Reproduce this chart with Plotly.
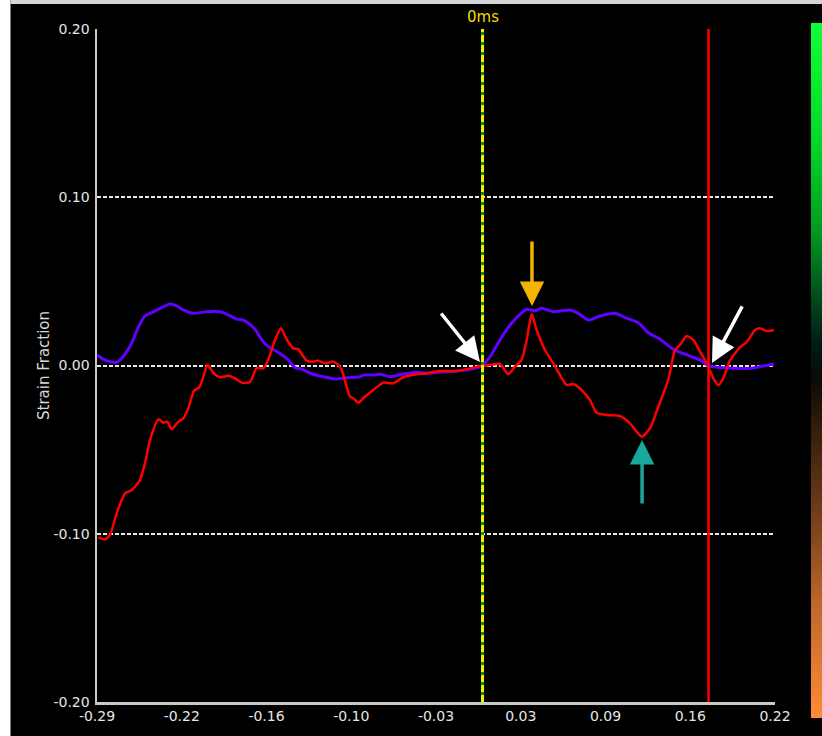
import plotly.graph_objects as go

# ---- data (x in seconds, y strain fraction) ----
purple_x = [-0.2900, -0.2827, -0.2752, -0.2704, -0.2639, -0.2592, -0.2539, -0.2489, -0.2413, -0.2351,
            -0.2300, -0.2251, -0.2176, -0.2075, -0.1975, -0.1924, -0.1849, -0.1800, -0.1736, -0.1699,
            -0.1661, -0.1611, -0.1523, -0.1461, -0.1411, -0.1360, -0.1298, -0.1223, -0.1110, -0.1022,
            -0.0922, -0.0897, -0.0822, -0.0771, -0.0696, -0.0596, -0.0495, -0.0420, -0.0320, -0.0194,
            -0.0094, 0.0000, 0.0056, 0.0131, 0.0207, 0.0282, 0.0332, 0.0395, 0.0445, 0.0532,
            0.0658, 0.0720, 0.0796, 0.0884, 0.0996, 0.1084, 0.1172, 0.1247, 0.1335, 0.1435,
            0.1560, 0.1636, 0.1698, 0.1761, 0.1886, 0.2012, 0.2112, 0.2192]
purple_y = [0.0062, 0.0027, 0.0019, 0.0052, 0.0134, 0.0223, 0.0294, 0.0314, 0.0344, 0.0366,
            0.0354, 0.0330, 0.0310, 0.0320, 0.0320, 0.0306, 0.0276, 0.0270, 0.0235, 0.0201,
            0.0152, 0.0112, 0.0072, 0.0033, -0.0013, -0.0021, -0.0046, -0.0062, -0.0080, -0.0073,
            -0.0067, -0.0057, -0.0057, -0.0052, -0.0067, -0.0051, -0.0040, -0.0046, -0.0039, -0.0033,
            -0.0023, 0.0000, 0.0052, 0.0152, 0.0241, 0.0304, 0.0334, 0.0326, 0.0340, 0.0320,
            0.0330, 0.0310, 0.0270, 0.0294, 0.0310, 0.0281, 0.0254, 0.0195, 0.0156, 0.0096,
            0.0056, 0.0033, -0.0001, -0.0011, -0.0017, -0.0017, -0.0003, 0.0007]

red_x = [-0.2890, -0.2840, -0.2802, -0.2752, -0.2689, -0.2639, -0.2577, -0.2539, -0.2501, -0.2439,
         -0.2401, -0.2371, -0.2338, -0.2288, -0.2251, -0.2213, -0.2170, -0.2130, -0.2100, -0.2070,
         -0.2025, -0.1975, -0.1912, -0.1862, -0.1812, -0.1749, -0.1699, -0.1649, -0.1611, -0.1561,
         -0.1516, -0.1478, -0.1423, -0.1386, -0.1323, -0.1273, -0.1235, -0.1185, -0.1122, -0.1085,
         -0.1059, -0.1022, -0.0997, -0.0972, -0.0934, -0.0897, -0.0822, -0.0746, -0.0671, -0.0596,
         -0.0495, -0.0420, -0.0320, -0.0194, -0.0094, 0.0000, 0.0056, 0.0131, 0.0194, 0.0244,
         0.0294, 0.0332, 0.0370, 0.0407, 0.0470, 0.0532, 0.0583, 0.0633, 0.0683, 0.0746,
         0.0808, 0.0858, 0.0934, 0.1034, 0.1109, 0.1197, 0.1260, 0.1322, 0.1397, 0.1448,
         0.1485, 0.1536, 0.1586, 0.1636, 0.1686, 0.1736, 0.1773, 0.1811, 0.1861, 0.1937,
         0.1987, 0.2050, 0.2087, 0.2138, 0.2192]
red_y = [-0.1021, -0.1033, -0.1007, -0.0878, -0.0760, -0.0740, -0.0681, -0.0581, -0.0443, -0.0320,
         -0.0340, -0.0334, -0.0379, -0.0334, -0.0314, -0.0254, -0.0150, -0.0130, -0.0067, 0.0005,
         -0.0043, -0.0070, -0.0061, -0.0076, -0.0102, -0.0098, -0.0015, -0.0017, 0.0037, 0.0152,
         0.0221, 0.0162, 0.0102, 0.0096, 0.0029, 0.0023, 0.0029, 0.0013, 0.0023, 0.0003,
         -0.0027, -0.0126, -0.0185, -0.0195, -0.0221, -0.0195, -0.0146, -0.0102, -0.0106, -0.0070,
         -0.0052, -0.0046, -0.0033, -0.0033, -0.0017, 0.0000, 0.0003, 0.0009, -0.0052, -0.0007,
         0.0033, 0.0152, 0.0306, 0.0211, 0.0092, 0.0013, -0.0057, -0.0116, -0.0110, -0.0146,
         -0.0205, -0.0281, -0.0294, -0.0300, -0.0344, -0.0423, -0.0373, -0.0245, -0.0086, 0.0092,
         0.0122, 0.0175, 0.0152, 0.0082, 0.0013, -0.0076, -0.0116, -0.0076, 0.0030, 0.0109,
         0.0139, 0.0211, 0.0221, 0.0205, 0.0211]

x_tick_vals = [-0.29, -0.22625, -0.1625, -0.09875, -0.035, 0.02875, 0.0925, 0.15625, 0.22]
x_tick_text = ["-0.29", "-0.22", "-0.16", "-0.10", "-0.03", "0.03", "0.09", "0.16", "0.22"]
y_tick_vals = [-0.2, -0.1, 0.0, 0.1, 0.2]
y_tick_text = ["-0.20", "-0.10", "0.00", "0.10", "0.20"]

zero_marker_x = 0.0
red_marker_x = 0.170

# arrows: (tail_x, tail_y, head_x, head_y, color)
arrows = [
    (-0.032, 0.0318, -0.0019, 0.0021, "#ffffff"),
    (0.0372, 0.0746, 0.0372, 0.0354, "#f2b400"),
    (0.1959, 0.036, 0.1726, 0.0015, "#ffffff"),
    (0.120, -0.0829, 0.120, -0.0443, "#1aa79c"),
]

fig = go.Figure()
fig.add_trace(go.Scatter(x=purple_x, y=purple_y, mode="lines",
                         line=dict(color="#6200ff", width=3, shape="spline", smoothing=0.6),
                         hoverinfo="skip"))
fig.add_trace(go.Scatter(x=red_x, y=red_y, mode="lines",
                         line=dict(color="#ff0000", width=2.5, shape="spline", smoothing=0.6),
                         hoverinfo="skip"))

# colour bar on the right
fig.add_trace(go.Scatter(
    x=[None, None], y=[None, None], mode="markers", hoverinfo="skip",
    marker=dict(color=[0, 1], cmin=0, cmax=1, showscale=True,
                colorscale=[[0, "#ff8c35"], [0.16, "#c0682c"], [0.30, "#6e3c1a"], [0.43, "#2c1a0a"],
                            [0.49, "#0a0a08"], [0.54, "#001c18"], [0.60, "#00481a"], [0.70, "#009a20"],
                            [0.83, "#00d828"], [1, "#10ff38"]],
                colorbar=dict(thickness=11, thicknessmode="pixels", len=695, lenmode="pixels",
                              x=1.0531, xanchor="left", y=1.0089, yanchor="top",
                              xpad=0, ypad=0, outlinewidth=0, showticklabels=False, ticks=""))))

# vertical markers
fig.add_shape(type="line", x0=zero_marker_x, x1=zero_marker_x, y0=0, y1=1, xref="x", yref="paper",
              line=dict(color="#1a8a1a", width=3))
fig.add_shape(type="line", x0=zero_marker_x, x1=zero_marker_x, y0=0, y1=1, xref="x", yref="paper",
              line=dict(color="#f2f200", width=3, dash="7px,3px"))
fig.add_shape(type="line", x0=red_marker_x, x1=red_marker_x, y0=0, y1=1, xref="x", yref="paper",
              line=dict(color="#ff0000", width=2.5))

# frame decoration: white strip on the left, light strip along the top
fig.add_shape(type="rect", xref="paper", yref="paper", x0=-0.1431, x1=-0.1276, y0=-0.06, y1=1.05,
              fillcolor="#ffffff", line=dict(width=0), layer="below")
fig.add_shape(type="rect", xref="paper", yref="paper", x0=-0.1276, x1=1.08, y0=1.0371, y1=1.05,
              fillcolor="#d4d4d4", line=dict(width=0), layer="below")

for tx, ty, hx, hy, col in arrows:
    fig.add_annotation(x=hx, y=hy, ax=tx, ay=ty, xref="x", yref="y", axref="x", ayref="y",
                       text="", showarrow=True, arrowhead=2, arrowsize=1.4, arrowwidth=3.5,
                       arrowcolor=col, standoff=0)

fig.add_annotation(x=zero_marker_x, y=1.0178, xref="x", yref="paper", text="0ms", showarrow=False,
                   font=dict(family="DejaVu Sans", size=15, color="#f0dc00"), yanchor="middle")
fig.add_annotation(x=-0.0944, y=0.5007, xref="paper", yref="paper", text="Strain Fraction",
                   showarrow=False, textangle=-90,
                   font=dict(family="DejaVu Sans", size=15, color="#d8d8d8"))

fig.update_layout(
    width=822, height=736,
    margin=dict(l=97, r=47, t=29, b=34, autoexpand=False),
    paper_bgcolor="#000000", plot_bgcolor="#000000",
    showlegend=False,
    hovermode=False,
    xaxis=dict(range=[-0.29, 0.22], tickvals=x_tick_vals, ticktext=x_tick_text,
               showgrid=False, zeroline=False, showline=True, linecolor="#c8c8c8", linewidth=2.5,
               ticks="", tickfont=dict(family="DejaVu Sans", size=14, color="#e6e6e6")),
    yaxis=dict(range=[-0.2, 0.2], tickvals=y_tick_vals, ticktext=y_tick_text,
               showgrid=True, gridcolor="#e6e6e6", gridwidth=2, griddash="4px,2px",
               zeroline=False, showline=True, linecolor="#c8c8c8", linewidth=2.5,
               ticks="", ticklabelstandoff=2,
               tickfont=dict(family="DejaVu Sans", size=14, color="#e6e6e6")),
)

fig.write_html(
    "out.html",
    config={"displayModeBar": False, "staticPlot": True},
    post_script="document.documentElement.style.overflow='hidden';"
                "document.body.style.margin='0';document.body.style.overflow='hidden';",
)
